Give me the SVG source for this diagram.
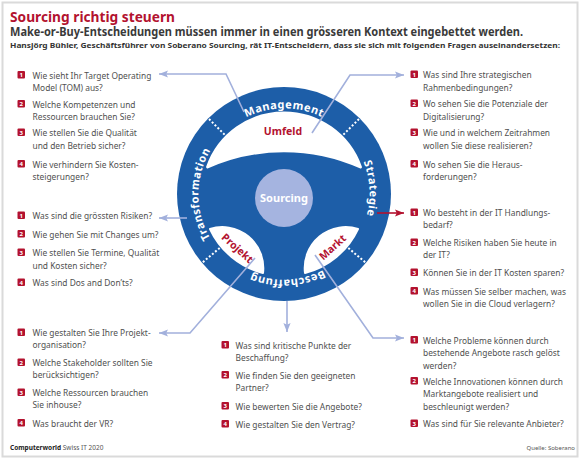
<svg xmlns="http://www.w3.org/2000/svg" xmlns:xlink="http://www.w3.org/1999/xlink" width="580" height="460" viewBox="0 0 580 460">
<defs>
<style>
text{font-family:"Noto Sans","Open Sans","Liberation Sans",sans-serif}
.t{font-size:8.4px;fill:#505050}
.b{fill:#b3122f}
.n{font-size:6px;font-weight:bold;fill:#fff;text-anchor:middle}
.ring{font-size:11px;font-weight:bold;fill:#fff;letter-spacing:0.5px}
.red{font-size:10.5px;font-weight:bold;fill:#b3122f}
.con{fill:none;stroke:#a2b0dc;stroke-width:1.6;marker-end:url(#ab)}
.dot{stroke:#fff;stroke-width:2;stroke-dasharray:2 2}
</style>
<marker id="ab" viewBox="0 0 10 8" refX="10" refY="4" markerWidth="9" markerHeight="7.2" markerUnits="userSpaceOnUse" orient="auto"><path d="M0,0 L10,4 L0,8 L2,4 z" fill="#a2b0dc"/></marker>
<marker id="ar" viewBox="0 0 10 8" refX="10" refY="4" markerWidth="9" markerHeight="7.2" markerUnits="userSpaceOnUse" orient="auto"><path d="M0,0 L10,4 L0,8 L2,4 z" fill="#b3122f"/></marker>
<path id="rp" d="M223.19,254.81 A86,86 0 0 1 344.81,133.19 A86,86 0 0 1 223.19,254.81"/>
</defs>
<rect x="0" y="0" width="580" height="460" fill="#fff"/>
<rect x="2.5" y="2.5" width="575" height="454" fill="none" stroke="#dadada" stroke-width="2"/>

<g id="header">
<text x="10" y="21.5" font-size="14.5" font-weight="bold" fill="#b3122f" textLength="165" lengthAdjust="spacingAndGlyphs">Sourcing richtig steuern</text>
<text x="10" y="36" font-size="11.5" font-weight="bold" fill="#3a3a3a" textLength="513" lengthAdjust="spacingAndGlyphs">Make-or-Buy-Entscheidungen müssen immer in einen grösseren Kontext eingebettet werden.</text>
<text x="10" y="47.5" font-size="7.8" font-weight="bold" fill="#333" textLength="550" lengthAdjust="spacingAndGlyphs">Hansjörg Bühler, Geschäftsführer von Soberano Sourcing, rät IT-Entscheidern, dass sie sich mit folgenden Fragen auseinandersetzen:</text>
</g>

<g id="wheel">
<circle cx="284" cy="194" r="107" fill="#1d5ea8"/>
<path d="M207.6,167 A81,81 0 0 1 360.4,167 A188,188 0 0 0 207.6,167 Z" fill="#fff" stroke="#fff" stroke-width="3" stroke-linejoin="round"/>
<path d="M210,229 A81,81 0 0 0 263,273 A41,41 0 0 0 210,229 Z" fill="#fff" stroke="#fff" stroke-width="2" stroke-linejoin="round"/>
<path d="M358,229 A81,81 0 0 1 305,273 A41,41 0 0 1 358,229 Z" fill="#fff" stroke="#fff" stroke-width="2" stroke-linejoin="round"/>
<line class="dot" x1="224.6" y1="134.6" x2="209" y2="119"/>
<line class="dot" x1="343.4" y1="134.6" x2="359" y2="119"/>
<line class="dot" x1="219.7" y1="248" x2="202.8" y2="262.2"/>
<line class="dot" x1="348.3" y1="248" x2="365.2" y2="262.2"/>
<text class="ring" text-anchor="middle"><textPath xlink:href="#rp" startOffset="12.5%">Transformation</textPath></text>
<text class="ring" text-anchor="middle"><textPath xlink:href="#rp" startOffset="37.5%">Management</textPath></text>
<text class="ring" text-anchor="middle"><textPath xlink:href="#rp" startOffset="61.5%">Strategie</textPath></text>
<text class="ring" text-anchor="middle"><textPath xlink:href="#rp" startOffset="86.8%">Beschaffung</textPath></text>
<text class="red" x="283" y="135" text-anchor="middle">Umfeld</text>
<text class="red" transform="translate(235,251) rotate(42)" text-anchor="middle">Projekt</text>
<text class="red" transform="translate(335,250) rotate(-42)" text-anchor="middle">Markt</text>
<circle cx="284" cy="198" r="29" fill="#a5b4e0"/>
<text x="284" y="201.5" font-size="11" font-weight="bold" fill="#fff" text-anchor="middle">Sourcing</text>
</g>

<g id="connectors">
<path class="con" d="M244,112 L226,74 L159,74"/>
<path class="con" d="M312,133 L350,75 L404,75"/>
<path class="con" d="M187,218 L159,218"/>
<path class="con" d="M255,258 L190,333 L159,333"/>
<path class="con" d="M287,301 L287,332"/>
<path class="con" d="M315,255 L373,338 L404,338"/>
<path d="M377,213 L404,213" fill="none" stroke="#b3122f" stroke-width="1.6" marker-end="url(#ar)"/>
</g>

<g id="list-management">
<rect class="b" x="17.5" y="71" width="7.5" height="7.5" rx="1"/><text class="n" x="21.25" y="77">1</text>
<text class="t" x="32.5" y="78.5">Wie sieht Ihr Target Operating</text><text class="t" x="32.5" y="90.5">Model (TOM) aus?</text>
<rect class="b" x="17.5" y="100" width="7.5" height="7.5" rx="1"/><text class="n" x="21.25" y="106">2</text>
<text class="t" x="32.5" y="107.5">Welche Kompetenzen und</text><text class="t" x="32.5" y="119.5">Ressourcen brauchen Sie?</text>
<rect class="b" x="17.5" y="128.5" width="7.5" height="7.5" rx="1"/><text class="n" x="21.25" y="134.5">3</text>
<text class="t" x="32.5" y="136">Wie stellen Sie die Qualität</text><text class="t" x="32.5" y="148.5">und den Betrieb sicher?</text>
<rect class="b" x="17.5" y="160" width="7.5" height="7.5" rx="1"/><text class="n" x="21.25" y="166">4</text>
<text class="t" x="32.5" y="167.5">Wie verhindern Sie Kosten-</text><text class="t" x="32.5" y="179.5">steigerungen?</text>
</g>

<g id="list-umfeld">
<rect class="b" x="410.5" y="70.5" width="7.5" height="7.5" rx="1"/><text class="n" x="414.25" y="76.5">1</text>
<text class="t" x="423" y="78">Was sind Ihre strategischen</text><text class="t" x="423" y="90.5">Rahmenbedingungen?</text>
<rect class="b" x="410.5" y="99.5" width="7.5" height="7.5" rx="1"/><text class="n" x="414.25" y="105.5">2</text>
<text class="t" x="423" y="107">Wo sehen Sie die Potenziale der</text><text class="t" x="423" y="119.5">Digitalisierung?</text>
<rect class="b" x="410.5" y="128.5" width="7.5" height="7.5" rx="1"/><text class="n" x="414.25" y="134.5">3</text>
<text class="t" x="423" y="136">Wie und in welchem Zeitrahmen</text><text class="t" x="423" y="149">wollen Sie diese realisieren?</text>
<rect class="b" x="410.5" y="160" width="7.5" height="7.5" rx="1"/><text class="n" x="414.25" y="166">4</text>
<text class="t" x="423" y="167.5">Wo sehen Sie die Heraus-</text><text class="t" x="423" y="180">forderungen?</text>
</g>

<g id="list-transformation">
<rect class="b" x="17.5" y="211.5" width="7.5" height="7.5" rx="1"/><text class="n" x="21.25" y="217.5">1</text>
<text class="t" x="32.5" y="219">Was sind die grössten Risiken?</text>
<rect class="b" x="17.5" y="230" width="7.5" height="7.5" rx="1"/><text class="n" x="21.25" y="236">2</text>
<text class="t" x="32.5" y="237.5">Wie gehen Sie mit Changes um?</text>
<rect class="b" x="17.5" y="248.5" width="7.5" height="7.5" rx="1"/><text class="n" x="21.25" y="254.5">3</text>
<text class="t" x="32.5" y="256">Wie stellen Sie Termine, Qualität</text><text class="t" x="32.5" y="268.5">und Kosten sicher?</text>
<rect class="b" x="17.5" y="278.5" width="7.5" height="7.5" rx="1"/><text class="n" x="21.25" y="284.5">4</text>
<text class="t" x="32.5" y="286">Was sind Dos and Don’ts?</text>
</g>

<g id="list-strategie">
<rect class="b" x="410.5" y="208.5" width="7.5" height="7.5" rx="1"/><text class="n" x="414.25" y="214.5">1</text>
<text class="t" x="423" y="216">Wo besteht in der IT Handlungs-</text><text class="t" x="423" y="228">bedarf?</text>
<rect class="b" x="410.5" y="238.5" width="7.5" height="7.5" rx="1"/><text class="n" x="414.25" y="244.5">2</text>
<text class="t" x="423" y="246">Welche Risiken haben Sie heute in</text><text class="t" x="423" y="258">der IT?</text>
<rect class="b" x="410.5" y="268.5" width="7.5" height="7.5" rx="1"/><text class="n" x="414.25" y="274.5">3</text>
<text class="t" x="423" y="276">Können Sie in der IT Kosten sparen?</text>
<rect class="b" x="410.5" y="287" width="7.5" height="7.5" rx="1"/><text class="n" x="414.25" y="293">4</text>
<text class="t" x="423" y="294.5">Was müssen Sie selber machen, was</text><text class="t" x="423" y="307">wollen Sie in die Cloud verlagern?</text>
</g>

<g id="list-projekt">
<rect class="b" x="17.5" y="328.5" width="7.5" height="7.5" rx="1"/><text class="n" x="21.25" y="334.5">1</text>
<text class="t" x="32.5" y="336">Wie gestalten Sie Ihre Projekt-</text><text class="t" x="32.5" y="348">organisation?</text>
<rect class="b" x="17.5" y="358.5" width="7.5" height="7.5" rx="1"/><text class="n" x="21.25" y="364.5">2</text>
<text class="t" x="32.5" y="366">Welche Stakeholder sollten Sie</text><text class="t" x="32.5" y="378">berücksichtigen?</text>
<rect class="b" x="17.5" y="388.5" width="7.5" height="7.5" rx="1"/><text class="n" x="21.25" y="394.5">3</text>
<text class="t" x="32.5" y="396">Welche Ressourcen brauchen</text><text class="t" x="32.5" y="408">Sie inhouse?</text>
<rect class="b" x="17.5" y="419" width="7.5" height="7.5" rx="1"/><text class="n" x="21.25" y="425">4</text>
<text class="t" x="32.5" y="426.5">Was braucht der VR?</text>
</g>

<g id="list-beschaffung">
<rect class="b" x="221.5" y="341" width="7.5" height="7.5" rx="1"/><text class="n" x="225.25" y="347">1</text>
<text class="t" x="235.5" y="348.5">Was sind kritische Punkte der</text><text class="t" x="235.5" y="360.5">Beschaffung?</text>
<rect class="b" x="221.5" y="371" width="7.5" height="7.5" rx="1"/><text class="n" x="225.25" y="377">2</text>
<text class="t" x="235.5" y="378.5">Wie finden Sie den geeigneten</text><text class="t" x="235.5" y="391">Partner?</text>
<rect class="b" x="221.5" y="402" width="7.5" height="7.5" rx="1"/><text class="n" x="225.25" y="408">3</text>
<text class="t" x="235.5" y="409.5">Wie bewerten Sie die Angebote?</text>
<rect class="b" x="221.5" y="420" width="7.5" height="7.5" rx="1"/><text class="n" x="225.25" y="426">4</text>
<text class="t" x="235.5" y="427.5">Wie gestalten Sie den Vertrag?</text>
</g>

<g id="list-markt">
<rect class="b" x="410.5" y="336" width="7.5" height="7.5" rx="1"/><text class="n" x="414.25" y="342">1</text>
<text class="t" x="423" y="343.5">Welche Probleme können durch</text><text class="t" x="423" y="356">bestehende Angebote rasch gelöst</text><text class="t" x="423" y="368.5">werden?</text>
<rect class="b" x="410.5" y="377" width="7.5" height="7.5" rx="1"/><text class="n" x="414.25" y="383">2</text>
<text class="t" x="423" y="384.5">Welche Innovationen können durch</text><text class="t" x="423" y="397">Marktangebote realisiert und</text><text class="t" x="423" y="409.5">beschleunigt werden?</text>
<rect class="b" x="410.5" y="419.5" width="7.5" height="7.5" rx="1"/><text class="n" x="414.25" y="425.5">3</text>
<text class="t" x="423" y="427">Was sind für Sie relevante Anbieter?</text>
</g>

<g id="footer">
<text x="10" y="450" font-size="6.5" fill="#555"><tspan font-weight="bold" fill="#222">Computerworld</tspan> Swiss IT 2020</text>
<text x="575" y="449.5" font-size="6" fill="#555" text-anchor="end">Quelle: Soberano</text>
</g>
</svg>
